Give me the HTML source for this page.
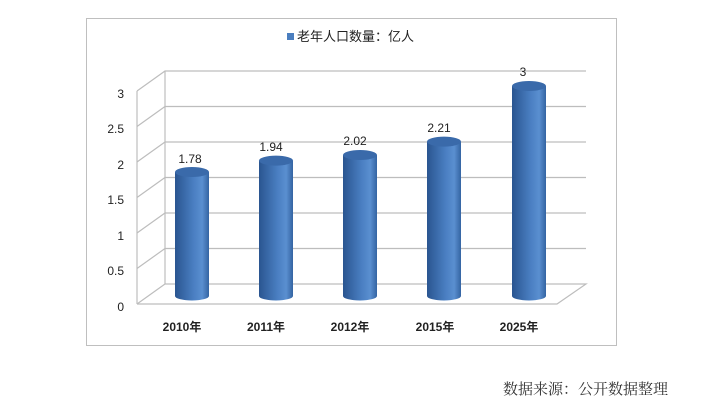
<!DOCTYPE html>
<html><head><meta charset="utf-8"><style>
body{margin:0;background:#fff;width:716px;height:407px;overflow:hidden}
</style></head><body>
<svg width="716" height="407" viewBox="0 0 716 407" xmlns="http://www.w3.org/2000/svg" style="font-family:'Liberation Sans','Noto Sans CJK SC',sans-serif">
<defs>
<linearGradient id="cyl" x1="0" x2="1" y1="0" y2="0">
<stop offset="0" stop-color="#2a5590"/>
<stop offset="0.55" stop-color="#4a7fc2"/>
<stop offset="0.8" stop-color="#5a8fd0"/>
<stop offset="1" stop-color="#3464a2"/>
</linearGradient>
</defs>
<rect x="86.5" y="18.5" width="530" height="327" fill="#fff" stroke="#bfbfbf"/>
<rect x="287" y="33" width="7" height="7" fill="#4a7ebf"/>
<text x="297" y="41" font-size="13" fill="#222">老年人口数量：亿人</text>
<g stroke="#bdbdbd" stroke-width="1.2" fill="none">
<path d="M165 71V284"/>
<path d="M137 304L165 284H586L557 304H137"/>
<path d="M137 91L165 71H586"/>
<path d="M137 126.5L165 106.5H586"/>
<path d="M137 162L165 142H586"/>
<path d="M137 197.5L165 177.5H586"/>
<path d="M137 233L165 213H586"/>
<path d="M137 268.5L165 248.5H586"/>
<path d="M137 91V304"/>
</g>
<g font-size="12" fill="#222" text-anchor="end">
<text x="124" y="98">3</text><text x="124" y="133">2.5</text><text x="124" y="169">2</text>
<text x="124" y="204">1.5</text><text x="124" y="240">1</text><text x="124" y="275">0.5</text><text x="124" y="311">0</text>
</g>
<g font-size="12" fill="#222" text-anchor="middle" font-weight="bold">
<text x="182" y="331">2010年</text><text x="266" y="331">2011年</text><text x="350" y="331">2012年</text><text x="435" y="331">2015年</text><text x="519" y="331">2025年</text>
</g>
<g>
<path d="M175 172V296A17 4.5 0 0 0 209 296V172Z" fill="url(#cyl)"/><ellipse cx="192" cy="172" rx="17" ry="5" fill="#3a6aaa"/>
<path d="M259 160.6V296A17 4.5 0 0 0 293 296V160.6Z" fill="url(#cyl)"/><ellipse cx="276" cy="160.6" rx="17" ry="5" fill="#3a6aaa"/>
<path d="M343 155V296A17 4.5 0 0 0 377 296V155Z" fill="url(#cyl)"/><ellipse cx="360" cy="155" rx="17" ry="5" fill="#3a6aaa"/>
<path d="M427 141.6V296A17 4.5 0 0 0 461 296V141.6Z" fill="url(#cyl)"/><ellipse cx="444" cy="141.6" rx="17" ry="5" fill="#3a6aaa"/>
<path d="M512 86V296A17 4.5 0 0 0 546 296V86Z" fill="url(#cyl)"/><ellipse cx="529" cy="86" rx="17" ry="5" fill="#3a6aaa"/>
</g>
<g font-size="12" fill="#222" text-anchor="middle">
<text x="190" y="163">1.78</text><text x="271" y="151">1.94</text><text x="355" y="145">2.02</text><text x="439" y="132">2.21</text><text x="523" y="76">3</text>
</g>
<text x="668" y="394" font-size="15" fill="#333" text-anchor="end" font-family="'Liberation Serif','Noto Serif CJK SC',serif">数据来源：公开数据整理</text>
</svg>
</body></html>
